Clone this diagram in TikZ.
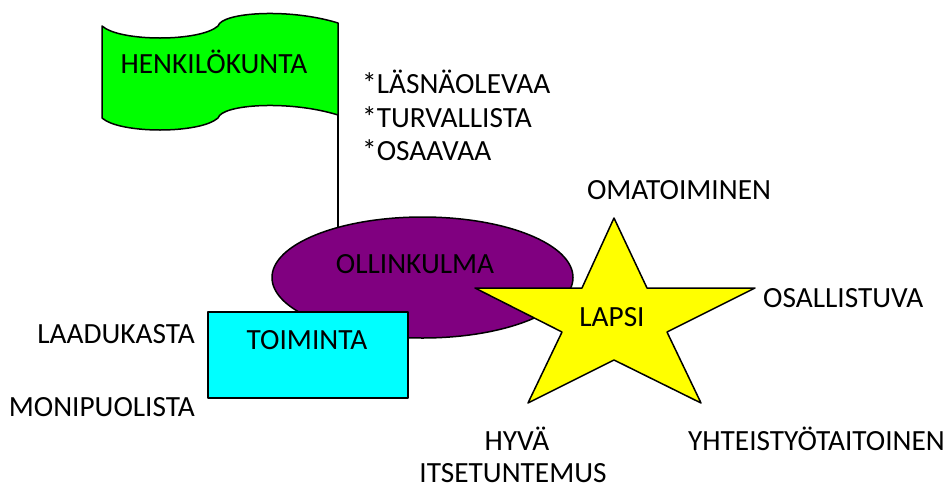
\documentclass[tikz,border=0pt]{standalone}
\usepackage{fontspec}
\setmainfont{Carlito}
\usetikzlibrary{shapes.geometric}
\definecolor{lippu}{RGB}{0,255,0}
\definecolor{olli}{RGB}{128,0,128}
\definecolor{toiminta}{RGB}{0,255,255}
\definecolor{tahti}{RGB}{255,255,0}

\begin{document}
\begin{tikzpicture}[x=1pt, y=-1pt,
	every node/.style={inner sep=0pt, font=\fontsize{29.3}{35}\selectfont},
	outline/.style={draw=black, line width=1.5pt, line join=round}]
	\useasboundingbox (0,0) rectangle (948,488);
	% lippu ja salko
	\coordinate (poletop) at (338,23);
	\coordinate (polefoot) at (338,245);
	\draw[line width=1.2pt] (poletop) -- (polefoot);
	\draw[outline, fill=lippu] (102,26) .. controls (120,42) and (200,42) .. (218,26) .. controls (222,12) and (290,8) .. (338,23) -- (338,115) .. controls (290,100) and (222,104) .. (218,118) .. controls (200,134) and (120,134) .. (102,118) -- cycle;
	\draw (214,73) node[anchor=base](henk) {HENKILÖKUNTA};
	\draw (362,93) node[anchor=base west](lasna) {*LÄSNÄOLEVAA};
	\draw (362,127) node[anchor=base west](turva) {*TURVALLISTA};
	\draw (362,160) node[anchor=base west](osaa) {*OSAAVAA};
	% ollinkulma
	\draw (422.5,277.5) node[outline, fill=olli, ellipse, minimum width=301pt, minimum height=121pt](olli) {};
	\draw (415,273) node[anchor=base](olliteksti) {OLLINKULMA};
	% toiminta
	\draw (308,355) node[outline, fill=toiminta, rectangle, minimum width=200pt, minimum height=86pt](toim) {};
	\draw (307,349) node[anchor=base](toimteksti) {TOIMINTA};
	\draw (195,343) node[anchor=base east](laatu) {LAADUKASTA};
	\draw (195,416) node[anchor=base east](moni) {MONIPUOLISTA};
	% lapsi
	\draw[outline, fill=tahti] (614,218) -- (647,288) -- (755,288) -- (667,332) -- (701,403) -- (614,360) -- (528,403) -- (562,332) -- (475,288) -- (582,288) -- cycle;
	\draw (612,326) node[anchor=base](lapsi) {LAPSI};
	\draw (679,199) node[anchor=base](oma) {OMATOIMINEN};
	\draw (763,307) node[anchor=base west](osall) {OSALLISTUVA};
	\draw (517,450) node[anchor=base](hyva) {HYVÄ};
	\draw (513,482) node[anchor=base](itse) {ITSETUNTEMUS};
	\draw (688,450) node[anchor=base west](yht) {YHTEISTYÖTAITOINEN};
\end{tikzpicture}
\end{document}
